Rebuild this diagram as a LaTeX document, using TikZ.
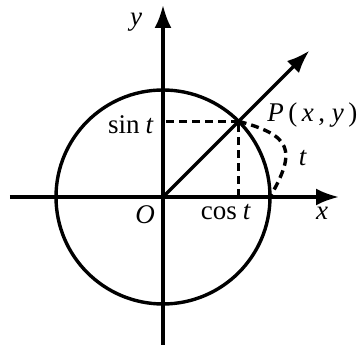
\documentclass[tikz,border=0pt]{standalone}
\usepackage{fontspec}
\setmainfont{Liberation Serif}
\usetikzlibrary{arrows.meta}

\begin{document}
\begin{tikzpicture}[x=0.5pt, y=0.5pt,
  axis/.style={line width=1.7pt, -{Latex[length=11.5pt,width=8.5pt]}},
  guide/.style={line width=1.7pt, dash pattern=on 4pt off 2.5pt},
  lab/.style={font=\fontsize{13.5}{16}\selectfont, inner sep=0pt}]

  %% Frame
  \useasboundingbox (-163,-149) rectangle (195,197);

  %% Points
  \coordinate (O) at (0,0);
  \coordinate (P) at (45:107);
  \coordinate (A) at (107,0);
  \coordinate (Px) at (P |- O);
  \coordinate (Py) at (P -| O);
  \coordinate (xl) at (-153,0);
  \coordinate (xr) at (176,0);
  \coordinate (yb) at (0,-148);
  \coordinate (yt) at (0,192);
  \coordinate (ray) at (45:207);

  %% Axes, unit circle and ray
  \draw[axis] (xl) -- (xr);
  \draw[axis] (yb) -- (yt);
  \draw[line width=1.7pt] (O) circle (107);
  \draw[axis] (O) -- (ray);

  %% Projections of P and the arc t
  \draw[guide] (P) -- (Py);
  \draw[guide] (Px) -- (P);
  \draw[guide] (P) to[out=-15, in=60, looseness=1.7] (A);

  %% Labels
  \node[lab] (ylab) at (-27,175) {\textit{y}};
  \node[lab] (xlab) at (159,-16) {\textit{x}};
  \node[lab] (Olab) at (-18,-18) {\textit{O}};
  \node[lab, anchor=west] (Plab) at (104,82)
    {\textit{P}\,(\,\textit{x}\,,\ \textit{y}\,)};
  \node[lab, anchor=east] (sinlab) at (-9,72) {sin\hspace{3pt}\textit{t}};
  \node[lab] (coslab) at (63,-15) {cos\hspace{3pt}\textit{t}};
  \node[lab] (tlab) at (140,39) {\textit{t}};

\end{tikzpicture}
\end{document}
